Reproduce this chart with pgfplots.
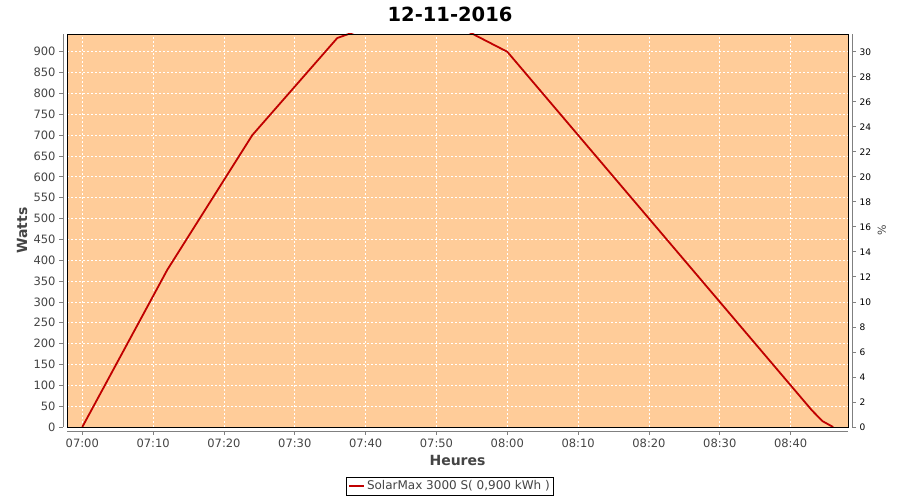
\documentclass[border=0pt]{standalone}
\usepackage{fontspec}
\setmainfont{DejaVu Sans}
\usepackage{pgfplots}
\pgfplotsset{compat=1.18}
\definecolor{bgor}{RGB}{255,204,153}
\definecolor{lred}{RGB}{192,0,0}
\definecolor{txt}{RGB}{68,68,68}
\begin{document}
\begin{tikzpicture}[x=1pt,y=1pt]
\path[use as bounding box] (0,0) rectangle (900,500);
\begin{axis}[
  at={(67pt,73pt)}, anchor=south west,
  scale only axis, width=781pt, height=393pt,
  xmin=-2.16, xmax=108.1, ymin=0, ymax=942.6,
  clip mode=individual,
  axis background/.style={fill=bgor},
  axis lines*=left,
  axis x line shift=4pt, axis y line shift=4pt,
  axis line style={-, gray, line width=0.8pt},
  tick align=outside, major tick length=4pt,
  tick style={gray, line width=0.8pt},
  xtick={0,10,...,100},
  xticklabels={07:00,07:10,07:20,07:30,07:40,07:50,08:00,08:10,08:20,08:30,08:40},
  ytick={0,50,...,900},
  /pgf/number format/assume math mode=true,
  tick label style={font=\fontsize{11.5}{13}\selectfont, text=txt},
  grid=major,
  grid style={white, dash pattern=on 2pt off 2pt, line width=0.7pt},
  xlabel={Heures},
  xlabel style={font=\fontsize{14}{16}\selectfont\bfseries, text=txt, at={(axis description cs:0.5,-0.084)}, anchor=center},
  ylabel={Watts},
  ylabel style={font=\fontsize{14}{16}\selectfont\bfseries, text=txt, at={(axis description cs:-0.0576,0.5)}, anchor=center},
  title={12-11-2016},
  title style={font=\fontsize{19.5}{22}\selectfont\bfseries, at={(axis description cs:0.4904,1)}, anchor=center, yshift=14pt},
  legend style={at={(axis description cs:0.4904,-0.127)}, anchor=north, draw=black, line width=0.8pt,
    font=\fontsize{12}{14}\selectfont, text=txt, inner sep=1.5pt},
  legend image code/.code={\draw[lred, line width=1.8pt] (0pt,0pt) -- (15pt,0pt);},
]
\addplot[lred, line width=1.8pt] coordinates {
  (0,0) (12,377) (24,700) (36,933) (48,1005) (60,900)
  (72,660) (84,420) (96,180) (103,40) (104.5,14) (106,0)
};
\addlegendentry{SolarMax 3000 S( 0,900 kWh )}
\draw[black, line width=0.8pt] (rel axis cs:0,0) rectangle (rel axis cs:1,1);
\end{axis}
\begin{axis}[
  at={(67pt,73pt)}, anchor=south west,
  scale only axis, width=781pt, height=393pt,
  xmin=-2.16, xmax=108.1, ymin=0, ymax=31.42,
  hide x axis,
  axis y line*=right, axis y line shift=4pt,
  axis line style={-, gray, line width=0.8pt},
  tick align=outside, major tick length=4pt,
  tick style={gray, line width=0.8pt},
  ytick={0,2,...,30},
  /pgf/number format/assume math mode=true,
  tick label style={font=\fontsize{9}{11}\selectfont, text=black},
  ylabel={\%},
  ylabel style={font=\fontsize{11}{13}\selectfont, text=txt, at={(axis description cs:1.0435,0.5)}, anchor=center},
]
\addplot[draw=none] coordinates {(0,0)};
\end{axis}
\end{tikzpicture}
\end{document}
